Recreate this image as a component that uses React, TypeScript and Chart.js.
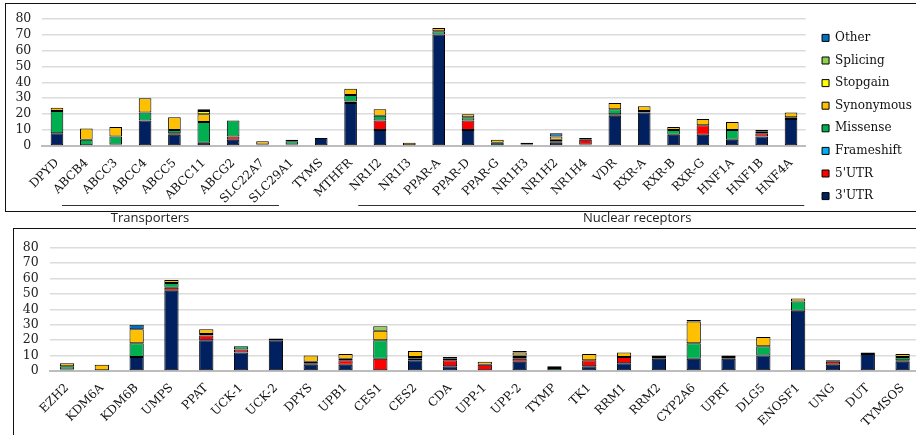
import React, { useEffect, useRef } from "react";
import { Chart, registerables } from "chart.js";

Chart.register(...registerables);

// ---- series (stack order bottom -> top) ----
const seriesNames = ["3'UTR", "5'UTR", "Frameshift", "Missense", "Synonymous", "Stopgain", "Splicing", "Other"];
const seriesColors = ["#002060", "#FF0000", "#00B0F0", "#00B050", "#FFC000", "#FFFF00", "#92D050", "#0070C0"];

// ---- top panel ----
const topCategories = ["DPYD", "ABCB4", "ABCC3", "ABCC4", "ABCC5", "ABCC11", "ABCG2", "SLC22A7", "SLC29A1", "TYMS", "MTHFR", "NR1I2", "NR1I3", "PPAR-A", "PPAR-D", "PPAR-G", "NR1H3", "NR1H2", "NR1H4", "VDR", "RXR-A", "RXR-B", "RXR-G", "HNF1A", "HNF1B", "HNF4A"];
const top3UTR = [8, 0, 1, 16, 7, 2, 4, 0, 0, 5, 27, 10, 0, 70, 10, 0, 0, 2, 1, 19, 21, 7, 7, 4, 6, 17];
const top5UTR = [0, 0, 0, 0, 1, 0, 2, 0, 1, 0, 1, 6, 0, 0, 6, 0, 1, 1, 3, 1, 0, 0, 6, 0, 2, 0];
const topFrameshift = [0, 0, 0, 0, 0, 0, 0, 0, 0, 0, 0, 0, 0, 0, 0, 0, 0, 0, 0, 0, 0, 0, 0, 0, 0, 0];
const topMissense = [14, 4, 5, 5, 2, 13, 10, 1, 2, 0, 4, 3, 0, 2, 2, 2, 0, 1, 0, 3, 1, 3, 0, 6, 1, 1];
const topSynonymous = [2, 7, 6, 9, 8, 5, 0, 2, 1, 0, 4, 4, 2, 2, 2, 2, 1, 2, 1, 4, 3, 2, 4, 5, 1, 3];
const topStopgain = [0, 0, 0, 0, 0, 2, 0, 0, 0, 0, 0, 0, 0, 0, 0, 0, 0, 0, 0, 0, 0, 0, 0, 0, 0, 0];
const topSplicing = [0, 0, 0, 0, 0, 1, 0, 0, 0, 0, 0, 0, 0, 0, 0, 0, 0, 0, 0, 0, 0, 0, 0, 0, 0, 0];
const topOther = [0, 0, 0, 0, 0, 0, 0, 0, 0, 0, 0, 0, 0, 0, 0, 0, 0, 2, 0, 0, 0, 0, 0, 0, 0, 0];

// ---- bottom panel ----
const bottomCategories = ["EZH2", "KDM6A", "KDM6B", "UMPS", "PPAT", "UCK-1", "UCK-2", "DPYS", "UPB1", "CES1", "CES2", "CDA", "UPP-1", "UPP-2", "TYMP", "TK1", "RRM1", "RRM2", "CYP2A6", "UPRT", "DLG5", "ENOSF1", "UNG", "DUT", "TYMSOS"];
const bot3UTR = [1, 0, 9, 52, 20, 12, 20, 4, 4, 0, 7, 3, 0, 6, 0, 3, 5, 8, 8, 8, 10, 39, 4, 11, 6];
const bot5UTR = [0, 0, 0, 2, 3, 2, 0, 1, 3, 8, 1, 4, 4, 2, 0, 4, 4, 0, 0, 0, 0, 0, 2, 0, 1];
const botFrameshift = [0, 0, 0, 0, 0, 0, 0, 0, 0, 0, 0, 0, 0, 1, 0, 0, 0, 0, 0, 0, 0, 0, 0, 0, 0];
const botMissense = [2, 0, 9, 3, 1, 2, 0, 1, 1, 12, 1, 1, 0, 1, 2, 0, 0, 1, 10, 1, 6, 6, 1, 0, 2];
const botSynonymous = [2, 4, 9, 2, 3, 0, 1, 4, 3, 6, 4, 1, 2, 2, 1, 4, 3, 1, 14, 1, 6, 2, 0, 1, 2];
const botStopgain = [0, 0, 0, 0, 0, 0, 0, 0, 0, 0, 0, 0, 0, 1, 0, 0, 0, 0, 1, 0, 0, 0, 0, 0, 0];
const botSplicing = [0, 0, 0, 0, 0, 0, 0, 0, 0, 3, 0, 0, 0, 0, 0, 0, 0, 0, 0, 0, 0, 0, 0, 0, 0];
const botOther = [0, 0, 3, 0, 0, 0, 0, 0, 0, 0, 0, 0, 0, 0, 0, 0, 0, 0, 0, 0, 0, 0, 0, 0, 0];

// ---- axis ticks ----
const yTickValues = [0, 10, 20, 30, 40, 50, 60, 70, 80];

// ---- group annotations for top panel ----
const groupNames = ["Transporters", "Nuclear receptors"];

const SERIF = "'DejaVu Serif', serif";
const SANS = "'Open Sans', 'Noto Sans', sans-serif";

function buildDatasets(series: number[][], barPct: number) {
  return seriesNames.map((name, i) => ({
    label: name,
    data: series[i].map((v) => (v === 0 ? null : v)),
    backgroundColor: seriesColors[i],
    borderColor: "#000000",
    borderWidth: 1,
    borderSkipped: false,
    barPercentage: barPct,
    categoryPercentage: 1,
  }));
}

function yScale(width: number) {
  return {
    stacked: true,
    min: 0,
    max: 80,
    afterBuildTicks: (s: any) => {
      s.ticks = yTickValues.map((v) => ({ value: v }));
    },
    grid: { color: "#dcdcdc", lineWidth: 1.5, drawTicks: false },
    border: { display: false },
    ticks: { autoSkip: false, padding: 11, color: "#222", font: { family: SERIF, size: 12.5 } },
    afterFit: (s: any) => {
      s.width = width;
    },
  };
}

function xScale(height: number) {
  return {
    stacked: true,
    offset: true,
    grid: { display: false },
    border: { display: true, color: "#bdbdbd", width: 2 },
    ticks: {
      autoSkip: false,
      minRotation: 45,
      maxRotation: 45,
      padding: 2,
      color: "#111",
      font: { family: SERIF, size: 12 },
    },
    afterFit: (s: any) => {
      s.height = height;
    },
  };
}

const groupPlugin = {
  id: "groupLines",
  afterDraw(chart: any) {
    const xs = chart.scales.x;
    const ctx = chart.ctx;
    const bottom = chart.chartArea.bottom;
    const groups = [
      { name: groupNames[0], from: 0.17, to: 7.56, center: 3.17 },
      { name: groupNames[1], from: 10.26, to: 25.45, center: 19.76 },
    ];
    ctx.save();
    ctx.strokeStyle = "#333";
    ctx.lineWidth = 1.2;
    ctx.fillStyle = "#222";
    ctx.font = `13px ${SANS}`;
    ctx.textAlign = "center";
    ctx.textBaseline = "middle";
    for (const g of groups) {
      const y = Math.round(bottom + 58.5) + 0.5;
      ctx.beginPath();
      ctx.moveTo(xs.getPixelForValue(g.from), y);
      ctx.lineTo(xs.getPixelForValue(g.to), y);
      ctx.stroke();
      ctx.fillText(g.name, xs.getPixelForValue(g.center), bottom + 72);
    }
    ctx.restore();
  },
};

const TOP_W = 922;
const TOP_H = 235;
const BOT_W = 920;
const BOT_H = 206;

export default function App() {
  const topRef = useRef<HTMLCanvasElement>(null);
  const botRef = useRef<HTMLCanvasElement>(null);

  useEffect(() => {
    const topChart = new Chart(topRef.current as HTMLCanvasElement, {
      type: "bar",
      data: {
        labels: topCategories,
        datasets: buildDatasets(
          [top3UTR, top5UTR, topFrameshift, topMissense, topSynonymous, topStopgain, topSplicing, topOther],
          0.43
        ) as any,
      },
      options: {
        responsive: false,
        animation: false,
        devicePixelRatio: 1,
        layout: { padding: { top: 18.3, bottom: 19.3, left: 0, right: 0 } },
        plugins: {
          tooltip: { enabled: false },
          legend: {
            position: "right",
            reverse: true,
            labels: {
              boxWidth: 7,
              boxHeight: 7,
              padding: 10.6,
              color: "#111",
              font: { family: SERIF, size: 12 },
            },
          },
        },
        scales: {
          x: xScale(69.7) as any,
          y: yScale(42.3) as any,
          yR: {
            type: "linear",
            position: "right",
            display: true,
            grid: { display: false },
            ticks: { display: false },
            border: { display: false },
            afterFit: (s: any) => {
              const lw = s.chart.legend ? s.chart.legend.width : 0;
              s.width = Math.max(TOP_W - lw - 805.7, 0);
            },
          } as any,
        },
      },
      plugins: [groupPlugin],
    });

    const botChart = new Chart(botRef.current as HTMLCanvasElement, {
      type: "bar",
      data: {
        labels: bottomCategories,
        datasets: buildDatasets(
          [bot3UTR, bot5UTR, botFrameshift, botMissense, botSynonymous, botStopgain, botSplicing, botOther],
          0.41
        ) as any,
      },
      options: {
        responsive: false,
        animation: false,
        devicePixelRatio: 1,
        layout: { padding: { top: 13, bottom: 0, left: 0, right: 0 } },
        plugins: {
          tooltip: { enabled: false },
          legend: { display: false },
        },
        scales: {
          x: xScale(64) as any,
          y: yScale(49.6) as any,
        },
      },
    });

    return () => {
      topChart.destroy();
      botChart.destroy();
    };
  }, []);

  return (
    <div
      style={{
        position: "fixed",
        left: 0,
        top: 0,
        width: 916,
        height: 435,
        overflow: "hidden",
        background: "#ffffff",
      }}
    >
      <canvas
        ref={topRef}
        width={TOP_W}
        height={TOP_H}
        style={{ position: "absolute", left: 0, top: 0, width: TOP_W, height: TOP_H }}
      />
      <canvas
        ref={botRef}
        width={BOT_W}
        height={BOT_H}
        style={{ position: "absolute", left: 0, top: 229, width: BOT_W, height: BOT_H }}
      />
      <div
        style={{
          position: "absolute",
          left: 5,
          top: 3,
          width: 930,
          height: 208.5,
          boxSizing: "border-box",
          border: "1.5px solid #111",
        }}
      />
      <div
        style={{
          position: "absolute",
          left: 13,
          top: 227.5,
          width: 930,
          height: 300,
          boxSizing: "border-box",
          border: "1.5px solid #111",
        }}
      />
    </div>
  );
}
